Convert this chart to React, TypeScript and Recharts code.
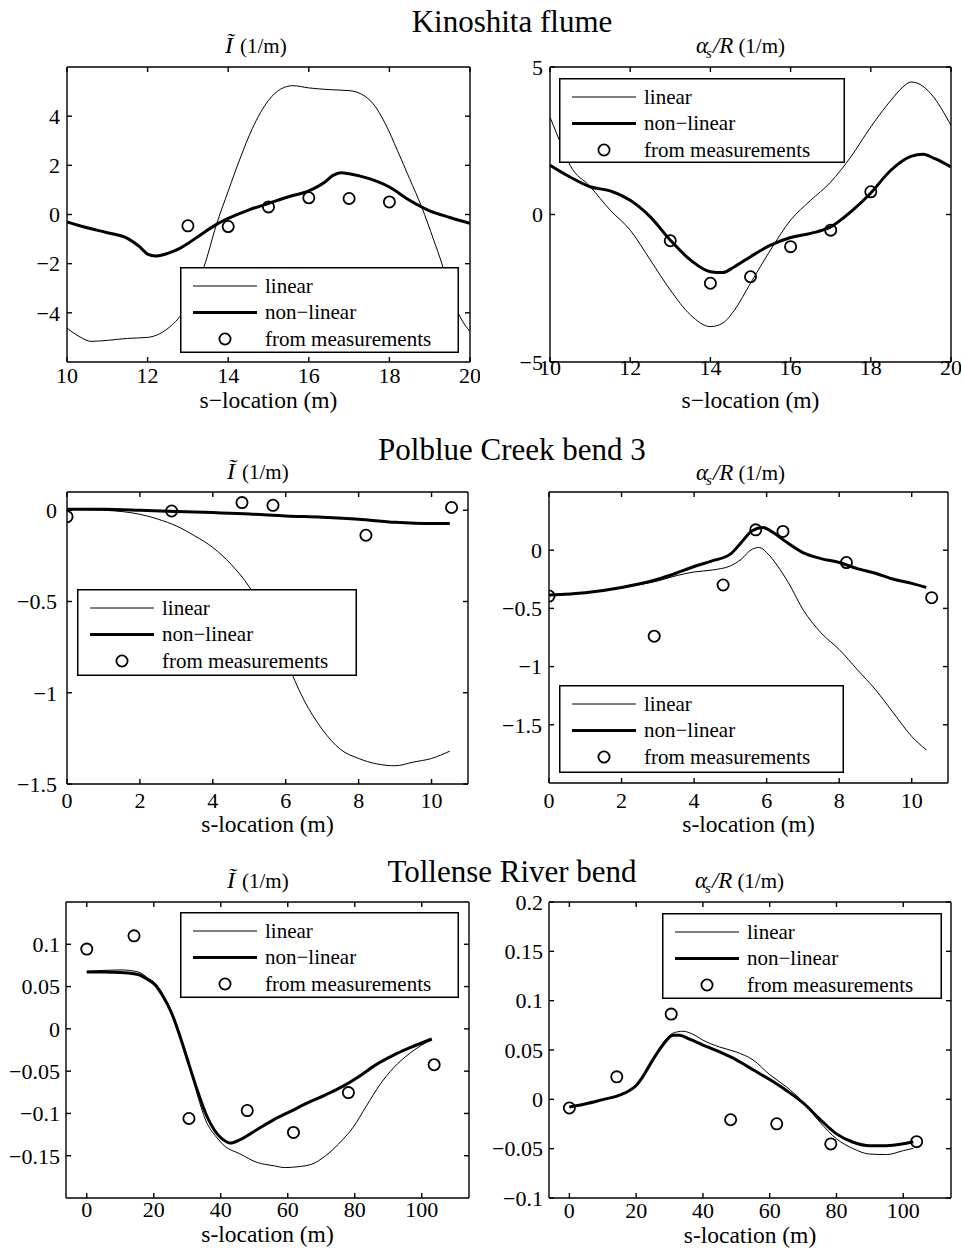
import React from 'react';
import { ComposedChart, Line, Scatter, XAxis, YAxis, Legend } from 'recharts';

// ---------------- Kinoshita flume : I~ ----------------
const kinoI_linS = [10, 10.3, 10.6, 11, 11.5, 12, 12.3, 12.6, 12.8, 13, 13.2, 13.4, 13.7, 14, 14.3, 14.6, 15, 15.3, 15.6, 16, 16.5, 17, 17.3, 17.6, 17.9, 18.2, 18.5, 18.8, 19.1, 19.3, 19.5, 19.75, 20];
const kinoI_linV = [-4.62, -4.96, -5.16, -5.12, -5.04, -5.0, -4.85, -4.5, -4.15, -3.6, -2.9, -2.12, -0.45, 0.95, 2.3, 3.5, 4.64, 5.1, 5.24, 5.15, 5.08, 5.04, 4.9, 4.5, 3.69, 2.6, 1.46, 0.31, -1.04, -1.99, -3.1, -4.15, -4.76];
const kinoI_nlS = [10, 10.5, 11, 11.5, 11.8, 12, 12.2, 12.5, 12.8, 13, 13.3, 13.7, 14, 14.5, 15, 15.5, 16, 16.4, 16.6, 16.8, 17, 17.5, 18, 18.5, 19, 19.5, 20];
const kinoI_nlV = [-0.3, -0.54, -0.74, -0.97, -1.31, -1.61, -1.69, -1.58, -1.38, -1.18, -0.84, -0.41, -0.16, 0.18, 0.45, 0.72, 0.96, 1.32, 1.59, 1.7, 1.66, 1.46, 1.12, 0.58, 0.15, -0.12, -0.36];
const kinoI_mS = [13, 14, 15, 16, 17, 18];
const kinoI_mV = [-0.46, -0.49, 0.31, 0.68, 0.65, 0.51];

// ---------------- Kinoshita flume : alpha_s/R ----------------
const kinoA_linS = [10, 10.2, 10.5, 11, 11.5, 12, 12.5, 13, 13.5, 14, 14.3, 14.6, 15, 15.5, 16, 16.5, 17, 17.5, 18, 18.5, 18.8, 19, 19.2, 19.5, 20];
const kinoA_linV = [3.3, 2.63, 1.67, 0.95, 0.15, -0.53, -1.54, -2.56, -3.4, -3.8, -3.69, -3.24, -2.33, -1.2, -0.19, 0.48, 1.1, 1.95, 2.97, 3.87, 4.32, 4.49, 4.43, 4.09, 3.02];
const kinoA_nlS = [10, 10.5, 11, 11.5, 12, 12.5, 13, 13.5, 14, 14.3, 14.6, 15, 15.5, 16, 16.5, 17, 17.5, 18, 18.5, 19, 19.3, 19.6, 20];
const kinoA_nlV = [1.67, 1.27, 0.94, 0.8, 0.48, -0.08, -0.87, -1.54, -1.94, -1.97, -1.77, -1.43, -1.04, -0.78, -0.64, -0.42, 0.09, 0.73, 1.5, 1.97, 2.04, 1.89, 1.61];
const kinoA_mS = [13, 14, 15, 16, 17, 18];
const kinoA_mV = [-0.89, -2.33, -2.11, -1.09, -0.53, 0.77];

// ---------------- Polblue Creek bend 3 : I~ ----------------
const polI_linS = [0, 1, 1.5, 2, 2.5, 3, 3.5, 4, 4.5, 5, 5.5, 6, 6.5, 7, 7.5, 8, 8.5, 9, 9.5, 10, 10.5];
const polI_linV = [0.005, 0.0, -0.007, -0.022, -0.049, -0.086, -0.14, -0.204, -0.296, -0.42, -0.6, -0.82, -1.04, -1.2, -1.31, -1.36, -1.39, -1.4, -1.38, -1.36, -1.32];
const polI_nlS = [0, 1, 2, 3, 4, 5, 6, 7, 8, 9, 10, 10.5];
const polI_nlV = [0.005, 0.005, 0.0, -0.007, -0.013, -0.02, -0.031, -0.038, -0.049, -0.066, -0.073, -0.073];
const polI_mS = [0, 2.87, 4.8, 5.65, 8.2, 10.55];
const polI_mV = [-0.035, -0.004, 0.042, 0.027, -0.137, 0.015];

// ---------------- Polblue Creek bend 3 : alpha_s/R ----------------
const polA_linS = [0, 1, 2, 3, 3.5, 4, 4.5, 5, 5.3, 5.6, 5.8, 6, 6.3, 6.6, 7, 7.5, 8, 8.5, 9, 9.5, 10, 10.4];
const polA_linV = [-0.385, -0.365, -0.32, -0.264, -0.22, -0.187, -0.17, -0.135, -0.078, 0.009, 0.023, -0.02, -0.135, -0.279, -0.509, -0.71, -0.853, -1.026, -1.198, -1.4, -1.6, -1.715];
const polA_nlS = [0, 1, 2, 3, 3.5, 4, 4.5, 5, 5.3, 5.6, 5.9, 6.2, 6.5, 7, 7.5, 8, 8.5, 9, 9.5, 10, 10.4];
const polA_nlV = [-0.385, -0.365, -0.32, -0.25, -0.198, -0.14, -0.092, -0.034, 0.066, 0.167, 0.195, 0.147, 0.08, -0.02, -0.072, -0.106, -0.158, -0.198, -0.25, -0.285, -0.32];
const polA_mS = [0, 2.9, 4.8, 5.7, 6.45, 8.2, 10.55];
const polA_mV = [-0.394, -0.739, -0.299, 0.175, 0.161, -0.106, -0.408];

// ---------------- Tollense River bend : I~ ----------------
const tolI_linS = [0, 10.2, 15.3, 18.3, 20.4, 22.4, 25.5, 28.5, 30.5, 32.6, 35.6, 38.7, 40.7, 45.8, 50.9, 56, 59, 63.1, 67.2, 71.3, 76.4, 79.4, 83.5, 87.5, 91.6, 96.7, 103];
const tolI_linV = [0.068, 0.0697, 0.0673, 0.06, 0.054, 0.0425, 0.019, -0.015, -0.04, -0.072, -0.109, -0.128, -0.137, -0.148, -0.158, -0.162, -0.164, -0.163, -0.16, -0.15, -0.131, -0.117, -0.091, -0.066, -0.046, -0.028, -0.0126];
const tolI_nlS = [0, 5.1, 10.2, 15.3, 18.3, 20.4, 22.4, 25.5, 28.5, 30.5, 32.6, 35.6, 38.7, 40.7, 42.8, 45.8, 50.9, 56, 61.1, 66.2, 71.3, 76.4, 81.4, 86.5, 91.6, 96.7, 103];
const tolI_nlV = [0.0673, 0.0673, 0.0665, 0.0642, 0.058, 0.052, 0.041, 0.017, -0.017, -0.042, -0.068, -0.101, -0.123, -0.131, -0.135, -0.131, -0.119, -0.107, -0.097, -0.087, -0.078, -0.068, -0.056, -0.042, -0.031, -0.022, -0.012];
const tolI_mS = [0, 14.1, 30.5, 47.9, 61.7, 78.1, 103.7];
const tolI_mV = [0.0943, 0.11, -0.106, -0.0966, -0.1225, -0.0754, -0.0424];

// ---------------- Tollense River bend : alpha_s/R ----------------
const tolA_linS = [0, 10, 14, 20, 25, 28, 31, 34, 37, 40, 45, 50, 55, 60, 65, 70, 75, 80, 85, 90, 95, 100, 103];
const tolA_linV = [-0.0078, -0.0003, 0.003, 0.014, 0.0405, 0.057, 0.067, 0.069, 0.066, 0.06, 0.053, 0.048, 0.04, 0.025, 0.0126, -0.0027, -0.023, -0.04, -0.05, -0.0555, -0.056, -0.052, -0.0497];
const tolA_nlS = [0, 5, 10, 14, 18, 20, 22, 25, 28, 31, 33, 36, 40, 45, 50, 55, 60, 65, 70, 75, 80, 85, 90, 95, 100, 103];
const tolA_nlV = [-0.0078, -0.0044, -0.0003, 0.003, 0.009, 0.014, 0.023, 0.04, 0.055, 0.065, 0.065, 0.061, 0.055, 0.048, 0.04, 0.03, 0.02, 0.009, -0.0037, -0.02, -0.035, -0.0435, -0.047, -0.047, -0.045, -0.043];
const tolA_mS = [0, 14.2, 30.5, 48.3, 62.1, 78.3, 104];
const tolA_mV = [-0.0088, 0.0228, 0.0864, -0.0207, -0.0248, -0.0452, -0.0429];

// ---------------- ticks & labels ----------------
const kinoXTicks = [10, 12, 14, 16, 18, 20];
const kinoIYTicks = [-4, -2, 0, 2, 4];
const kinoAYTicks = [-5, 0, 5];
const polXTicks = [0, 2, 4, 6, 8, 10];
const polIYTicks = [-1.5, -1, -0.5, 0];
const polAYTicks = [-1.5, -1, -0.5, 0];
const tolXTicks = [0, 20, 40, 60, 80, 100];
const tolIYTicks = [-0.15, -0.1, -0.05, 0, 0.05, 0.1];
const tolAYTicks = [-0.1, -0.05, 0, 0.05, 0.1, 0.15, 0.2];
const LEGEND_LABELS = ['linear', 'non\u2212linear', 'from measurements'];
const SECTION_TITLES = ['Kinoshita flume', 'Polblue Creek bend 3', 'Tollense River bend'];
const XLABEL_TOP = 's\u2212location (m)';
const XLABEL = 's-location (m)';

const FONT = '"Liberation Serif", "Times New Roman", Times, serif';

type Pt = { x: number; y: number };
const zip = (s: number[], v: number[]): Pt[] => s.map((x, i) => ({ x, y: v[i] }));

interface Rect { left: number; top: number; width: number; height: number }
interface PanelProps {
  col: number;
  plot: Rect;
  legend: Rect;
  xDomain: [number, number];
  xTicks: number[];
  yDomain: [number, number];
  yTicks: number[];
  linear: Pt[];
  nonlinear: Pt[];
  measured: Pt[];
  xTickBase: number;
  yGap: number;
  labelBase: number;
  xLabel: string;
}

const fmt = (v: number) => (v < 0 ? '\u2212' + String(Math.abs(v)) : String(v));
const blank = () => '';

const Circle = (props: any) => {
  const { cx, cy } = props;
  if (cx == null || cy == null) return <g />;
  return <circle cx={cx} cy={cy} r={5.6} fill="none" stroke="#000" strokeWidth={1.8} />;
};

const LegendBox = ({ w, h }: { w: number; h: number }) => (
  <svg width={w} height={h} style={{ display: 'block' }}>
    <rect x={0.75} y={0.75} width={w - 1.5} height={h - 1.5} fill="#fff" stroke="#000" strokeWidth={1.5} />
    {LEGEND_LABELS.map((label, i) => {
      const cy = 19 + i * 26.5;
      return (
        <g key={label}>
          {i === 0 && <line x1={13} x2={77} y1={cy} y2={cy} stroke="#000" strokeWidth={1} />}
          {i === 1 && <line x1={13} x2={77} y1={cy} y2={cy} stroke="#000" strokeWidth={3} />}
          {i === 2 && <circle cx={45} cy={cy} r={5.6} fill="none" stroke="#000" strokeWidth={1.8} />}
          <text x={85} y={cy + 6.5} fontFamily={FONT} fontSize={21} fill="#000">{label}</text>
        </g>
      );
    })}
  </svg>
);

function Panel(p: PanelProps) {
  const chartLeft = p.col * 480;
  const topH = 12;
  const rightW = 10;
  const bottomH = 56;
  const yW = p.plot.left - chartLeft;
  const chartTop = p.plot.top - topH;
  const W = yW + p.plot.width + rightW;
  const H = topH + p.plot.height + bottomH;
  const tickFont = { fill: '#000', fontSize: 22, fontFamily: FONT };
  const capH = 0.71 * 22;
  return (
    <div style={{ position: 'absolute', left: chartLeft, top: chartTop, width: W, height: H }}>
      <ComposedChart width={W} height={H} margin={{ top: 0, right: 0, bottom: 0, left: 0 }}>
        <XAxis
          dataKey="x"
          type="number"
          domain={p.xDomain}
          ticks={p.xTicks}
          allowDataOverflow
          interval={0}
          height={bottomH}
          tickSize={-5}
          tickMargin={p.xTickBase - capH + 5}
          tick={tickFont}
          tickFormatter={fmt}
          stroke="#000"
          strokeWidth={1.4}
          label={{ value: p.xLabel, position: 'insideBottom', offset: bottomH - p.labelBase, fill: '#000', fontSize: 23.5, fontFamily: FONT }}
        />
        <XAxis
          xAxisId="t"
          orientation="top"
          dataKey="x"
          type="number"
          domain={p.xDomain}
          ticks={p.xTicks}
          allowDataOverflow
          interval={0}
          height={topH}
          tickSize={-5}
          tick={{ fontSize: 1, fill: 'none' }}
          tickFormatter={blank}
          stroke="#000"
          strokeWidth={1.4}
        />
        <YAxis
          dataKey="y"
          type="number"
          domain={p.yDomain}
          ticks={p.yTicks}
          allowDataOverflow
          interval={0}
          width={yW}
          tickSize={-5}
          tickMargin={p.yGap + 5}
          tick={tickFont}
          tickFormatter={fmt}
          stroke="#000"
          strokeWidth={1.4}
        />
        <YAxis
          yAxisId="r"
          orientation="right"
          dataKey="y"
          type="number"
          domain={p.yDomain}
          ticks={p.yTicks}
          allowDataOverflow
          interval={0}
          width={rightW}
          tickSize={-5}
          tick={{ fontSize: 1, fill: 'none' }}
          tickFormatter={blank}
          stroke="#000"
          strokeWidth={1.4}
        />
        <Line data={p.linear} dataKey="y" name="linear" type="monotone" stroke="#000" strokeWidth={1} dot={false} isAnimationActive={false} />
        <Line data={p.nonlinear} dataKey="y" name="non-linear" type="monotone" stroke="#000" strokeWidth={3} dot={false} isAnimationActive={false} />
        <Scatter data={p.measured} dataKey="y" name="from measurements" shape={Circle} isAnimationActive={false} />
        <Legend
          layout="vertical"
          align="center"
          verticalAlign="middle"
          wrapperStyle={{ left: p.legend.left - chartLeft, top: p.legend.top - chartTop, width: p.legend.width, height: p.legend.height, lineHeight: 0 }}
          content={() => <LegendBox w={p.legend.width} h={p.legend.height} />}
        />
      </ComposedChart>
    </div>
  );
}

const SubI = ({ x, y }: { x: number; y: number }) => (
  <text x={x} y={y} fontFamily={FONT} fill="#000">
    <tspan fontStyle="italic" fontSize={24}>{'\u0128'}</tspan>
    <tspan fontSize={21} dx={7}>(1/m)</tspan>
  </text>
);

const SubA = ({ x, y }: { x: number; y: number }) => (
  <text x={x} y={y} fontFamily={FONT} fill="#000">
    <tspan fontStyle="italic" fontSize={23}>{'\u03B1'}</tspan>
    <tspan fontStyle="italic" fontSize={15} dx={-2} dy={5}>s</tspan>
    <tspan fontStyle="italic" fontSize={23} dx={1} dy={-5}>/R</tspan>
    <tspan fontSize={21} dx={5}>(1/m)</tspan>
  </text>
);

export default function App() {
  return (
    <div style={{ position: 'absolute', left: 0, top: 0, width: 962, height: 1250, background: '#fff', overflow: 'hidden' }}>
      <Panel
        col={0}
        plot={{ left: 67, top: 67, width: 403, height: 295 }}
        legend={{ left: 180, top: 267, width: 279, height: 86 }}
        xDomain={[10, 20]} xTicks={kinoXTicks} yDomain={[-6, 6]} yTicks={kinoIYTicks}
        linear={zip(kinoI_linS, kinoI_linV)} nonlinear={zip(kinoI_nlS, kinoI_nlV)} measured={zip(kinoI_mS, kinoI_mV)}
        xTickBase={21} yGap={7} labelBase={46} xLabel={XLABEL_TOP}
      />
      <Panel
        col={1}
        plot={{ left: 550, top: 67, width: 401, height: 295 }}
        legend={{ left: 559, top: 78, width: 286, height: 85 }}
        xDomain={[10, 20]} xTicks={kinoXTicks} yDomain={[-5, 5]} yTicks={kinoAYTicks}
        linear={zip(kinoA_linS, kinoA_linV)} nonlinear={zip(kinoA_nlS, kinoA_nlV)} measured={zip(kinoA_mS, kinoA_mV)}
        xTickBase={13} yGap={7} labelBase={46} xLabel={XLABEL_TOP}
      />
      <Panel
        col={0}
        plot={{ left: 67, top: 492, width: 401, height: 292 }}
        legend={{ left: 77, top: 589, width: 280, height: 87 }}
        xDomain={[0, 11]} xTicks={polXTicks} yDomain={[-1.5, 0.1]} yTicks={polIYTicks}
        linear={zip(polI_linS, polI_linV)} nonlinear={zip(polI_nlS, polI_nlV)} measured={zip(polI_mS, polI_mV)}
        xTickBase={24} yGap={10} labelBase={47.7} xLabel={XLABEL}
      />
      <Panel
        col={1}
        plot={{ left: 549, top: 492, width: 399, height: 291 }}
        legend={{ left: 559, top: 685, width: 285, height: 88 }}
        xDomain={[0, 11]} xTicks={polXTicks} yDomain={[-2, 0.5]} yTicks={polAYTicks}
        linear={zip(polA_linS, polA_linV)} nonlinear={zip(polA_nlS, polA_nlV)} measured={zip(polA_mS, polA_mV)}
        xTickBase={25} yGap={7} labelBase={48.7} xLabel={XLABEL}
      />
      <Panel
        col={0}
        plot={{ left: 66, top: 902, width: 403, height: 296 }}
        legend={{ left: 180, top: 912, width: 279, height: 86 }}
        xDomain={[-6.2, 114.1]} xTicks={tolXTicks} yDomain={[-0.2, 0.15]} yTicks={tolIYTicks}
        linear={zip(tolI_linS, tolI_linV)} nonlinear={zip(tolI_nlS, tolI_nlV)} measured={zip(tolI_mS, tolI_mV)}
        xTickBase={18.7} yGap={6} labelBase={43.7} xLabel={XLABEL}
      />
      <Panel
        col={1}
        plot={{ left: 549, top: 902, width: 402, height: 296 }}
        legend={{ left: 662, top: 913, width: 280, height: 86 }}
        xDomain={[-6.1, 114.3]} xTicks={tolXTicks} yDomain={[-0.1, 0.2]} yTicks={tolAYTicks}
        linear={zip(tolA_linS, tolA_linV)} nonlinear={zip(tolA_nlS, tolA_nlV)} measured={zip(tolA_mS, tolA_mV)}
        xTickBase={20} yGap={6} labelBase={44.7} xLabel={XLABEL}
      />
      <svg width={962} height={1250} style={{ position: 'absolute', left: 0, top: 0, pointerEvents: 'none' }}>
        <text x={512} y={32} textAnchor="middle" fontFamily={FONT} fontSize={31} fill="#000">{SECTION_TITLES[0]}</text>
        <text x={512} y={460} textAnchor="middle" fontFamily={FONT} fontSize={31} fill="#000">{SECTION_TITLES[1]}</text>
        <text x={512} y={882} textAnchor="middle" fontFamily={FONT} fontSize={31} fill="#000">{SECTION_TITLES[2]}</text>
        <SubI x={225} y={53} />
        <SubA x={696} y={53} />
        <SubI x={227} y={479} />
        <SubA x={696} y={480} />
        <SubI x={227} y={888} />
        <SubA x={695} y={888} />
      </svg>
    </div>
  );
}
